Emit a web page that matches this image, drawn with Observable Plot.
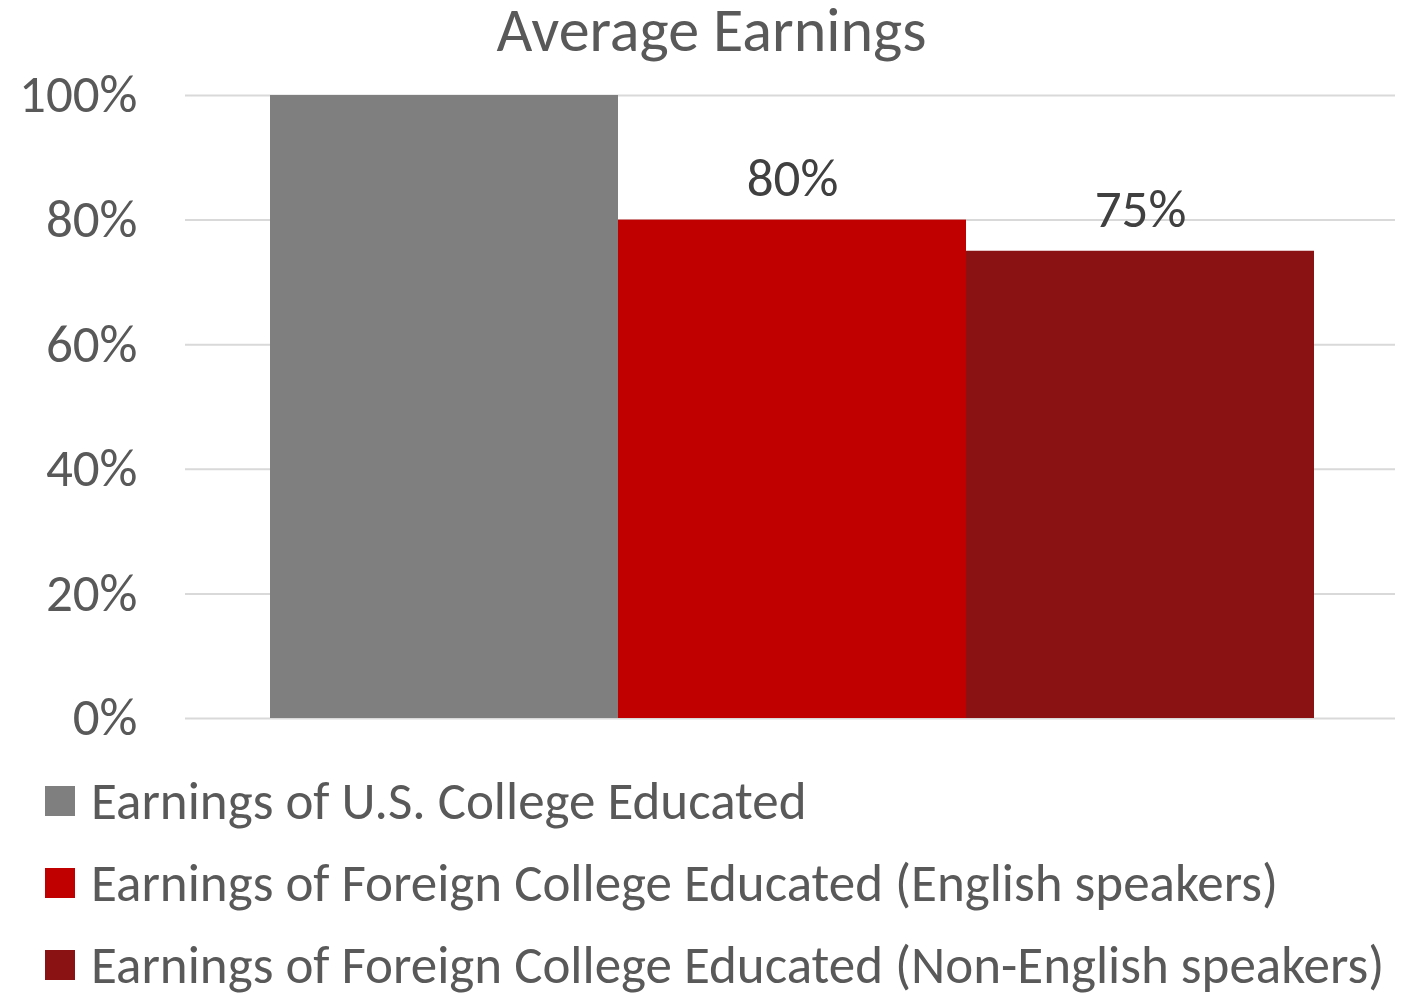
<!DOCTYPE html>
<html>
<head>
<meta charset="utf-8">
<script src="https://cdn.jsdelivr.net/npm/d3@7"></script>
<script src="https://cdn.jsdelivr.net/npm/@observablehq/plot@0.6"></script>
<style>
  body { margin: 0; background: #fff; font-family: Carlito, Lato, sans-serif; }
  #title { height: 70px; line-height: 70px; margin-top: -5px; margin-bottom: 5px; text-align: center; font-size: 62px; color: #595959; width: 1409px; padding-left: 14px; box-sizing: border-box;}
  #legend { margin-top: 2px; }
  .row { display: flex; align-items: center; height: 82px; padding-left: 45px; font-size: 53px; color: #595959; white-space: nowrap; }
  .sw { width: 30px; height: 30px; margin-right: 16px; flex: none; }
</style>
</head>
<body>
<div id="title">Average Earnings</div>
<div id="chart"></div>
<div id="legend"></div>
<script>
const series = [
  "Earnings of U.S. College Educated",
  "Earnings of Foreign College Educated (English speakers)",
  "Earnings of Foreign College Educated (Non-English speakers)"
];
const values = [1.00, 0.80, 0.75];
const colors = ["#7f7f7f", "#c00000", "#8a1213"];
const labels = ["", "80%", "75%"];
const yTicks = [0, 0.2, 0.4, 0.6, 0.8, 1.0];

const data = series.map((s, i) => ({series: s, value: values[i], label: labels[i]}));

const plot = Plot.plot({
  width: 1409,
  height: 688,
  marginTop: 25,
  marginBottom: 40,
  marginLeft: 185,
  marginRight: 14,
  style: { fontFamily: "Carlito, Lato, sans-serif", background: "#fff", overflow: "visible" },
  x: { domain: series, padding: 0, insetLeft: 84, insetRight: 80, axis: null },
  y: { domain: [0, 1], ticks: yTicks, label: null, tickFormat: d => Math.round(d * 100) + "%" },
  color: { domain: series, range: colors },
  marks: [
    Plot.ruleY(yTicks, { stroke: "#d9d9d9", strokeWidth: 2 }),
    Plot.barY(data, { x: "series", y: "value", fill: "series" }),
    Plot.text(data, { x: "series", y: "value", text: "label", dy: -41, fill: "#404040", fontSize: 53, lineAnchor: "middle" }),
    Plot.axisY({ ticks: yTicks, label: null, tickFormat: d => Math.round(d * 100) + "%", tickSize: 0, tickPadding: 48, fontSize: 53, color: "#595959" })
  ]
});
document.getElementById("chart").appendChild(plot);

const legend = document.getElementById("legend");
series.forEach((s, i) => {
  const row = document.createElement("div");
  row.className = "row";
  const sw = document.createElement("div");
  sw.className = "sw";
  sw.style.background = colors[i];
  const t = document.createElement("span");
  t.textContent = s;
  row.appendChild(sw);
  row.appendChild(t);
  legend.appendChild(row);
});
</script>
</body>
</html>
